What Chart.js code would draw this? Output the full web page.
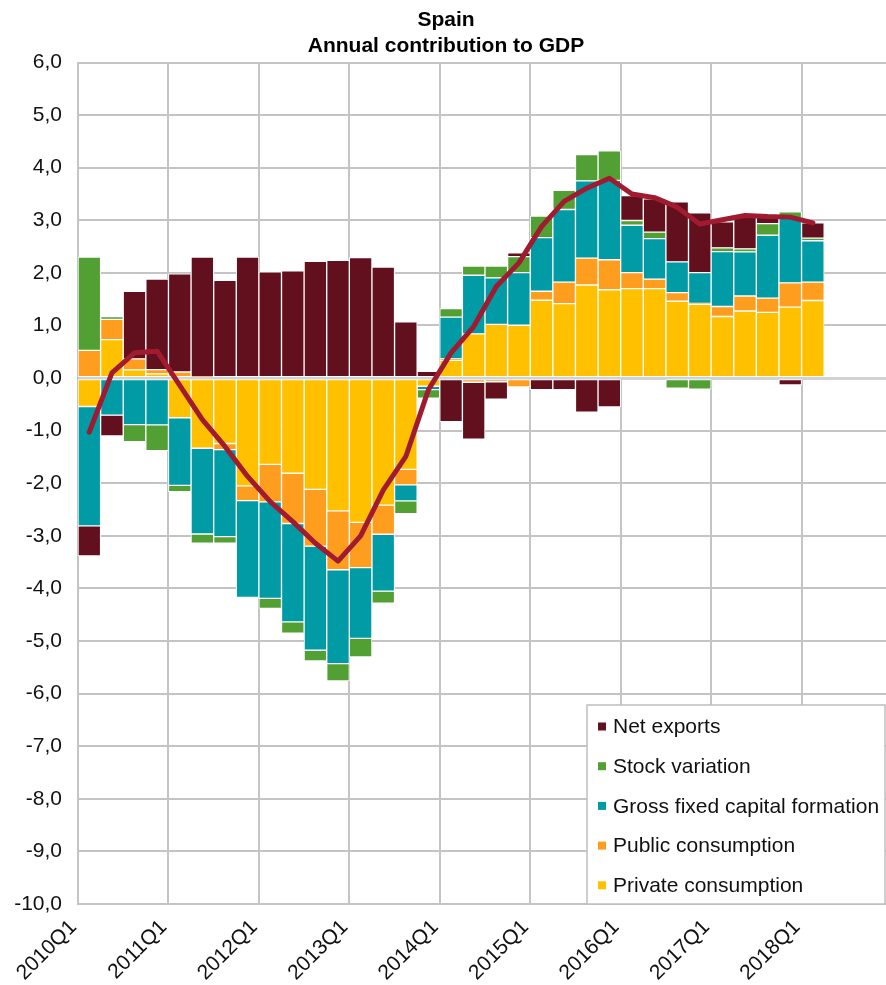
<!DOCTYPE html>
<html><head><meta charset="utf-8">
<script src="https://cdn.jsdelivr.net/npm/chart.js@4"></script>
<style>
html,body{margin:0;padding:0;background:#fff;overflow:hidden}
#wrap{width:886px;height:985px;overflow:hidden;position:relative;background:#fff}
canvas{display:block}
</style></head><body>
<div id="wrap"><canvas id="c" width="892" height="985" style="width:892px;height:985px"></canvas></div>
<script>
const quarters = [
  '2010Q1','2010Q2','2010Q3','2010Q4','2011Q1','2011Q2','2011Q3','2011Q4',
  '2012Q1','2012Q2','2012Q3','2012Q4','2013Q1','2013Q2','2013Q3','2013Q4',
  '2014Q1','2014Q2','2014Q3','2014Q4','2015Q1','2015Q2','2015Q3','2015Q4',
  '2016Q1','2016Q2','2016Q3','2016Q4','2017Q1','2017Q2','2017Q3','2017Q4',
  '2018Q1','2018Q2','2018Q3','2018Q4'
];
const xTickLabels = ['2010Q1','2011Q1','2012Q1','2013Q1','2014Q1','2015Q1','2016Q1','2017Q1','2018Q1'];

const privateConsumption = [
  -0.54, 0.73, 0.155, 0.08, -0.755, -1.335, -1.245, -2.05,
  -1.64, -1.81, -2.115, -2.525, -2.745, -2.415, -1.735, -0.155,
   0.335, 0.84, 1.02, 1.005, 1.48, 1.415, 1.77, 1.68,
   1.70, 1.70, 1.46, 1.40, 1.17, 1.275, 1.25, 1.35,
   1.475
];
const publicConsumption = [
   0.525, 0.385, 0.21, 0.08, 0.115, 0.02, -0.115, -0.28,
  -0.715, -0.955, -1.08, -1.12, -0.86, -0.555, -0.295, 0.00,
   0.03, -0.08, -0.07, -0.17, 0.17, 0.41, 0.51, 0.57,
   0.305, 0.18, 0.165, 0.02, 0.19, 0.285, 0.27, 0.46,
   0.35
];
const grossFixedCapital = [
  -2.27, -0.705, -0.885, -0.89, -1.285, -1.63, -1.655, -1.84,
  -1.835, -1.87, -1.98, -1.785, -1.345, -1.08, -0.305, -0.065,
   0.795, 1.115, 0.885, 1.00, 1.02, 1.38, 1.47, 1.51,
   0.90, 0.77, 0.585, 0.585, 1.045, 0.84, 1.195, 1.23,
   0.785
];
const stockVariation = [
   1.775, 0.055, -0.325, -0.49, -0.12, -0.175, -0.125, 0.00,
  -0.19, -0.215, -0.205, -0.33, -0.35, -0.23, -0.245, -0.16,
   0.16, 0.175, 0.225, 0.305, 0.41, 0.365, 0.50, 0.56,
   0.09, 0.125, -0.19, -0.21, 0.07, 0.055, 0.22, 0.12,
   0.05
];
const netExports = [
  -0.57, -0.395, 1.285, 1.72, 1.865, 2.28, 1.86, 2.30,
   2.02, 2.04, 2.22, 2.24, 2.29, 2.11, 1.07, 0.13,
  -0.83, -1.08, -0.33, 0.07, -0.22, -0.22, -0.65, -0.55,
   0.475, 0.635, 1.14, 1.135, 0.495, 0.605, 0.125, -0.13,
   0.29
];
const gdpGrowth = [
  -1.03, 0.10, 0.48, 0.51, -0.14, -0.79, -1.30, -1.87,
  -2.35, -2.73, -3.14, -3.48, -3.00, -2.13, -1.49, -0.22,
   0.48, 0.98, 1.74, 2.19, 2.88, 3.36, 3.61, 3.80,
   3.50, 3.43, 3.25, 2.93, 3.01, 3.09, 3.07, 3.06,
   2.95
];

const FONT = '"Liberation Sans", Arial, Helvetica, sans-serif';
const GRID = '#c4c4c4';

function barSet(label, data, color) {
  return {
    type: 'bar', label, data, backgroundColor: color,
    borderColor: '#ffffff', borderWidth: 1, borderSkipped: false,
    barPercentage: 1, categoryPercentage: 1, stack: 's', order: 1
  };
}

const legendBox = {
  id: 'legendBox',
  afterDraw(chart) {
    const ctx = chart.ctx;
    const x0 = 587, y0 = 705, w = 298, h = 199;
    ctx.save();
    ctx.fillStyle = '#ffffff';
    ctx.fillRect(x0, y0, w, h);
    ctx.strokeStyle = '#bfbfbf';
    ctx.lineWidth = 1.5;
    ctx.strokeRect(x0, y0, w, h);
    const items = chart.data.datasets.filter(d => d.type === 'bar').slice().reverse();
    ctx.font = '21px ' + FONT;
    ctx.textBaseline = 'middle';
    ctx.textAlign = 'left';
    items.forEach((d, i) => {
      const cy = 726.5 + i * 39.7;
      ctx.fillStyle = d.backgroundColor;
      ctx.fillRect(598, cy - 4, 8, 8);
      ctx.fillStyle = '#111111';
      ctx.fillText(d.label, 613, cy + 1);
    });
    ctx.restore();
  }
};

new Chart(document.getElementById('c'), {
  data: {
    labels: quarters,
    datasets: [
      { type: 'line', label: 'GDP', data: gdpGrowth, borderColor: '#a01b30',
        borderWidth: 5, pointRadius: 0, tension: 0, fill: false,
        borderJoinStyle: 'round', borderCapStyle: 'round', order: 0 },
      barSet('Private consumption', privateConsumption, '#ffc000'),
      barSet('Public consumption', publicConsumption, '#ff9e1e'),
      barSet('Gross fixed capital formation', grossFixedCapital, '#009ba5'),
      barSet('Stock variation', stockVariation, '#52a033'),
      barSet('Net exports', netExports, '#63101e')
    ]
  },
  options: {
    responsive: false,
    devicePixelRatio: 1,
    animation: false,
    layout: { padding: 0 },
    plugins: {
      legend: { display: false },
      tooltip: { enabled: false },
      title: {
        display: true,
        text: ['Spain', 'Annual contribution to GDP'],
        color: '#000000',
        font: { family: FONT, size: 21, weight: 'bold', lineHeight: 1.25 },
        padding: { top: 7, bottom: 3 }
      }
    },
    scales: {
      x: {
        type: 'category',
        offset: true,
        stacked: true,
        grid: {
          offset: true,
          drawTicks: false,
          color: ctx => (ctx.index % 4 === 0 ? GRID : 'rgba(0,0,0,0)'),
          lineWidth: 2
        },
        border: { display: true, color: GRID, width: 2 },
        ticks: {
          autoSkip: false,
          maxRotation: 45, minRotation: 45,
          labelOffset: -16,
          padding: 11,
          color: '#111111',
          font: { family: FONT, size: 21 },
          callback: function (v) {
            const l = this.getLabelForValue(v);
            return xTickLabels.includes(l) ? l : '';
          }
        },
        afterFit: s => { s.height = 81; s.paddingLeft = 0; s.paddingRight = 0; }
      },
      y: {
        stacked: true,
        min: -10, max: 6,
        grid: {
          drawTicks: false,
          color: ctx => (ctx.tick && ctx.tick.value === 0 ? '#d2d2d2' : GRID),
          lineWidth: ctx => (ctx.tick && ctx.tick.value === 0 ? 3 : 2)
        },
        border: { display: true, color: GRID, width: 2 },
        ticks: {
          stepSize: 1,
          padding: 16,
          color: '#111111',
          font: { family: FONT, size: 21 },
          callback: v => v.toFixed(1).replace('.', ',')
        },
        afterFit: s => { s.width = 78; s.paddingTop = 0; s.paddingBottom = 0; }
      }
    }
  },
  plugins: [legendBox]
});
</script>
</body></html>
